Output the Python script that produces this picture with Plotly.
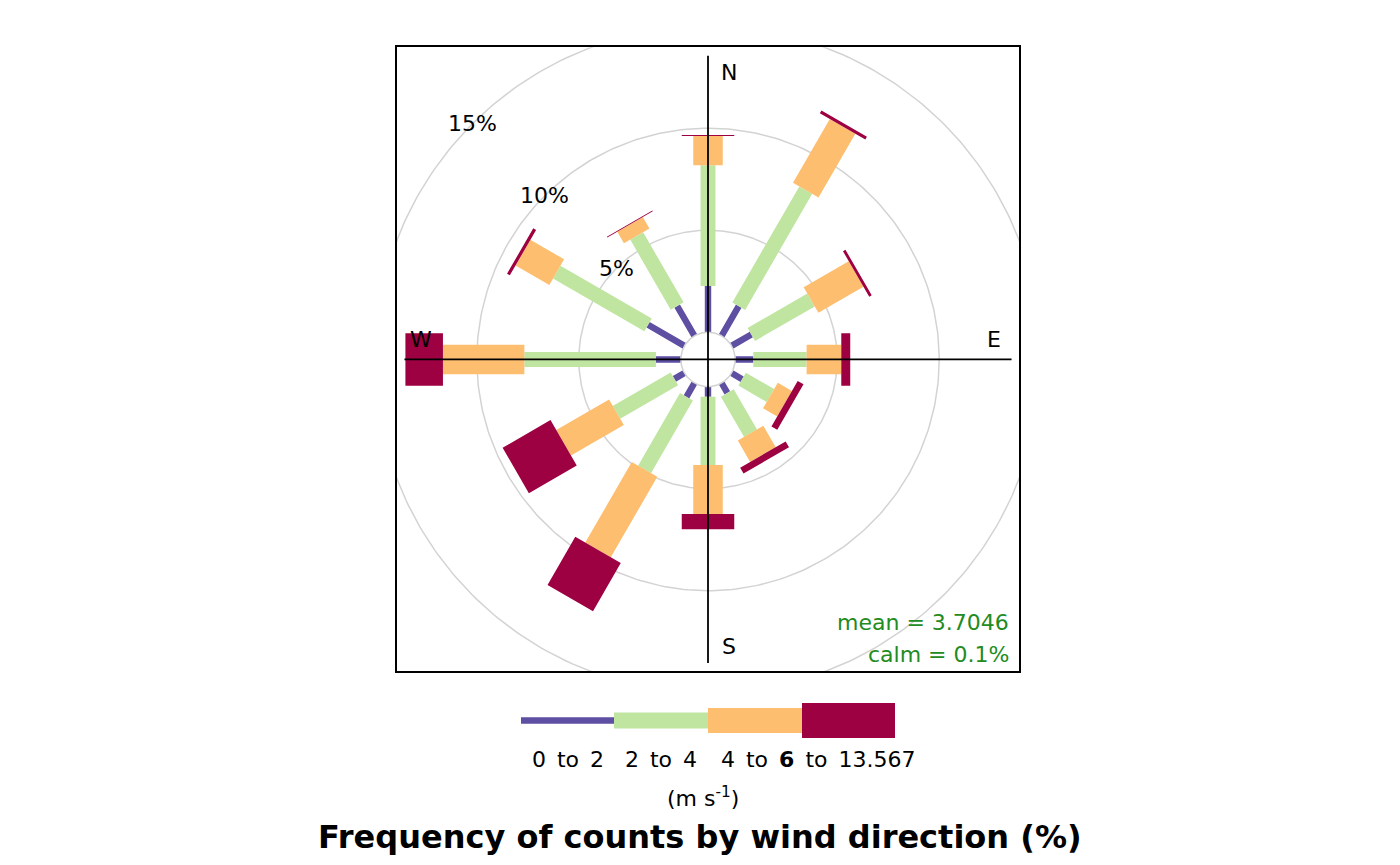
import numpy as np
import plotly.graph_objects as go

# ---------------- data ----------------
directions = [0, 30, 60, 90, 120, 150, 180, 210, 240, 270, 300, 330]
speed_labels = ["0 to 2", "2 to 4", "4 to 6", "6 to 13.567"]
freq_0_2 = [2.27, 1.68, 1.12, 0.89, 0.60, 0.56, 0.49, 0.78, 0.57, 1.22, 2.06, 1.69]
freq_2_4 = [5.92, 6.57, 3.38, 2.61, 1.60, 2.28, 3.35, 4.11, 3.28, 6.45, 5.17, 3.97]
freq_4_6 = [1.43, 3.61, 2.55, 1.70, 0.80, 1.21, 2.40, 4.56, 2.99, 3.99, 1.91, 0.65]
freq_6_max = [0.045, 0.16, 0.14, 0.44, 0.33, 0.33, 0.75, 2.72, 2.71, 1.84, 0.16, 0.04]
grid_pct = [5, 10, 15]
mean_ws = 3.7046
calm_pct = 0.1
compass = ["N", "E", "S", "W"]

# ---------------- style ----------------
colors = ["#5E4FA2", "#BFE5A0", "#FDBE6F", "#9E0142"]
bar_widths = [0.314, 0.730, 1.446, 2.574]   # full width of each band (axis units)
OFFSET = 1.333                               # radius of the calm circle (axis units)
FONT = "DejaVu Sans"
FS = 22
W, H = 1400, 865


def px(x):
    return x / W


def py(y):
    return 1 - y / H


series = [freq_0_2, freq_2_4, freq_4_6, freq_6_max]
stack = np.array(series, dtype=float)
cum = np.cumsum(stack, axis=0)
lower = np.vstack([np.zeros(len(directions)), cum[:-1]])

fig = go.Figure()

# grid circles
t = np.linspace(0, 2 * np.pi, 361)
for g in grid_pct:
    r = OFFSET + g
    fig.add_trace(go.Scatter(x=r * np.sin(t), y=r * np.cos(t), mode="lines",
                             line=dict(color="#d3d3d3", width=1.5),
                             hoverinfo="skip"))

# bars as rectangles
for k in range(len(series)):
    xs, ys = [], []
    h = bar_widths[k] / 2
    for i, wd in enumerate(directions):
        th = np.deg2rad(wd)
        u = np.array([np.sin(th), np.cos(th)])
        p = np.array([np.cos(th), -np.sin(th)])
        r1 = OFFSET + lower[k, i]
        r2 = OFFSET + cum[k, i]
        pts = [r1 * u - h * p, r1 * u + h * p, r2 * u + h * p, r2 * u - h * p, r1 * u - h * p]
        for q in pts:
            xs.append(q[0]); ys.append(q[1])
        xs.append(None); ys.append(None)
    fig.add_trace(go.Scatter(x=xs, y=ys, mode="lines", fill="toself",
                             fillcolor=colors[k], line=dict(width=0, color=colors[k]),
                             name=speed_labels[k], hoverinfo="skip"))

# calm circle
fig.add_trace(go.Scatter(x=OFFSET * np.sin(t), y=OFFSET * np.cos(t), mode="lines",
                         fill="toself", fillcolor="white",
                         line=dict(color="#d3d3d3", width=1.5), hoverinfo="skip"))

# crosshair
L = 14.88
fig.add_trace(go.Scatter(x=[-L, L, None, 0, 0], y=[0, 0, None, -L, L], mode="lines",
                         line=dict(color="black", width=1.8), hoverinfo="skip"))

ann = []
# compass labels
lab_r, lab_o = 14.07, 1.03
for name, (x, y) in zip(compass, [(lab_o, lab_r), (lab_r - 0.05, lab_o - 0.03),
                                  (lab_o, -lab_r), (-lab_r, lab_o - 0.07)]):
    ann.append(dict(x=x, y=y, xref="x", yref="y", text=name, showarrow=False,
                    xanchor="center", yanchor="middle",
                    font=dict(family=FONT, size=FS, color="black")))
# percent labels
for g in grid_pct:
    r = OFFSET + g
    ann.append(dict(x=-r * np.sin(np.pi / 4), y=r * np.cos(np.pi / 4), xref="x", yref="y",
                    text=f"{g}%", showarrow=False, xanchor="center", yanchor="middle",
                    font=dict(family=FONT, size=FS, color="black")))
# mean / calm
ann.append(dict(x=14.87, y=-12.87, xref="x", yref="y", text=f"mean = {mean_ws}",
                showarrow=False, xanchor="right", yanchor="middle",
                font=dict(family=FONT, size=FS, color="#228B22")))
ann.append(dict(x=14.87, y=-14.44, xref="x", yref="y", text=f"calm = {calm_pct}%",
                showarrow=False, xanchor="right", yanchor="middle",
                font=dict(family=FONT, size=FS, color="#228B22")))

# legend key
key_x = [521, 614, 708, 802, 895]
key_h = [6.7, 16, 25, 35]
key_cy = 720.5
shapes = []
for k in range(4):
    shapes.append(dict(type="rect", xref="paper", yref="paper",
                       x0=px(key_x[k]), x1=px(key_x[k + 1]),
                       y0=py(key_cy + key_h[k] / 2), y1=py(key_cy - key_h[k] / 2),
                       fillcolor=colors[k], line=dict(width=0)))

sp = "\u2002"
# first two labels centred under their keys
for k in range(2):
    ann.append(dict(x=px((key_x[k] + key_x[k + 1]) / 2), y=py(759), xref="paper", yref="paper",
                    text=speed_labels[k].replace(" ", sp), showarrow=False,
                    xanchor="center", yanchor="middle",
                    font=dict(family=FONT, size=FS, color="black")))
# last two labels share the "6" (they overlap in the original, giving a bold-looking 6)
lo3, hi3 = speed_labels[2].split(" to ")
lo4, hi4 = speed_labels[3].split(" to ")
ann.append(dict(x=px(818), y=py(759), xref="paper", yref="paper",
                text=f"{lo3}{sp}to{sp}<b>{hi3}</b>{sp}to{sp}{hi4}", showarrow=False,
                xanchor="center", yanchor="middle",
                font=dict(family=FONT, size=FS, color="black")))
ann.append(dict(x=px(703.5), y=py(797), xref="paper", yref="paper",
                text="(m s<sup>-1</sup>)", showarrow=False,
                xanchor="center", yanchor="middle",
                font=dict(family=FONT, size=FS, color="black")))
ann.append(dict(x=px(699.7), y=py(837), xref="paper", yref="paper",
                text="<b>Frequency of counts by wind direction (%)</b>", showarrow=False,
                xanchor="center", yanchor="middle",
                font=dict(family=FONT, size=32, color="black")))

fig.update_layout(
    width=W, height=H, autosize=False,
    margin=dict(l=0, r=0, t=0, b=0),
    paper_bgcolor="white", plot_bgcolor="white",
    showlegend=False, hovermode=False,
    xaxis=dict(range=[-15.27, 15.245], domain=[px(396.5), px(1019)],
               showgrid=False, zeroline=False, showticklabels=False, ticks="",
               showline=True, mirror=True, linecolor="black", linewidth=2,
               fixedrange=True),
    yaxis=dict(range=[-15.27, 15.30], domain=[py(671), py(47.3)],
               showgrid=False, zeroline=False, showticklabels=False, ticks="",
               showline=True, mirror=True, linecolor="black", linewidth=2,
               fixedrange=True),
    annotations=ann, shapes=shapes,
)

fig.write_html("out.html")
